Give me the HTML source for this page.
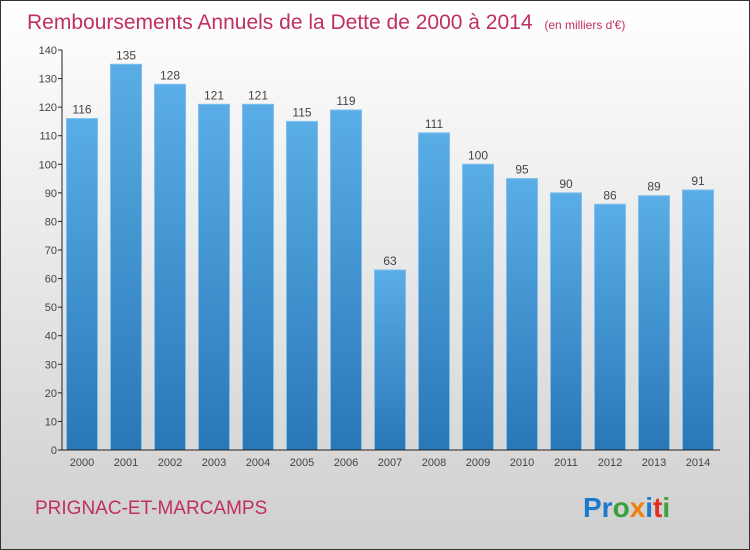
<!DOCTYPE html>
<html><head><meta charset="utf-8"><style>
body{margin:0}
#c{width:750px;height:550px;position:relative;overflow:hidden;font-family:"Liberation Sans",sans-serif}
</style></head><body>
<div id="c">
<svg width="750" height="550" xmlns="http://www.w3.org/2000/svg" id="svg">
<defs>
<linearGradient id="bg" x1="0" y1="0" x2="0" y2="1"><stop offset="0" stop-color="#ffffff"/><stop offset="1" stop-color="#cfcfcf"/></linearGradient>
<linearGradient id="bar" x1="0" y1="0" x2="0" y2="1"><stop offset="0" stop-color="#5aade6"/><stop offset="1" stop-color="#2878b6"/></linearGradient>
</defs>
<rect x="0.5" y="0.5" width="749" height="549" fill="url(#bg)" stroke="#333"/>
<text x="27" y="29" font-size="21" fill="#c0305f">Remboursements Annuels de la Dette de 2000 à 2014 <tspan font-size="12" dx="6">(en milliers d'€)</tspan></text>
<g id="plot"></g>
<text x="35" y="514" font-size="19" fill="#c0305f">PRIGNAC-ET-MARCAMPS</text>
<text x="583" y="517" font-size="28" font-weight="bold"><tspan fill="#1a7acc">Pr</tspan><tspan fill="#3aa03a">o</tspan><tspan fill="#f08010">x</tspan><tspan fill="#1a7acc">i</tspan><tspan fill="#e03020">t</tspan><tspan fill="#3aa03a">i</tspan></text>
</svg>
</div>
<script>
const categories=["2000","2001","2002","2003","2004","2005","2006","2007","2008","2009","2010","2011","2012","2013","2014"];
const values=[116,135,128,121,121,115,119,63,111,100,95,90,86,89,91];
const ticks=[0,10,20,30,40,50,60,70,80,90,100,110,120,130,140];
const NS="http://www.w3.org/2000/svg";
const g=document.getElementById('plot');
const x0=62,x1=720,y0=450,y1=50,maxV=140;
const y=v=>y0-(v/maxV)*(y0-y1);
const step=44,first=82,bw=31;
const xc=i=>first+i*step;
function mk(t,a){const e=document.createElementNS(NS,t);for(const k in a)e.setAttribute(k,a[k]);g.appendChild(e);return e;}
values.forEach((v,i)=>{
 const r=mk('rect',{x:xc(i)-bw/2,y:y(v),width:bw,height:y0-y(v),fill:'url(#bar)',stroke:'#7cc0ee','stroke-width':1});
 
 
 const t=mk('text',{x:xc(i),y:y(v)-5,'font-size':12,fill:'#444','text-anchor':'middle'});
 t.textContent=v;
 
 
 const c=mk('text',{x:xc(i),y:466,'font-size':11,fill:'#444','text-anchor':'middle'});
 c.textContent=categories[i];
 
 
});
ticks.forEach(v=>{
 const l=mk('line',{x1:x0-4,x2:x0,y1:y(v),y2:y(v),stroke:'#222'});
 
 
 const t=mk('text',{x:x0-5,y:y(v)+4,'font-size':11,fill:'#444','text-anchor':'end'});
 t.textContent=v;
 
 
});
const ya=mk('line',{x1:x0,x2:x0,y1:y1,y2:y0,stroke:'#222'});


const xa=mk('line',{x1:x0,x2:x1,y1:y0,y2:y0,stroke:'#222'});


</script>
</body></html>
